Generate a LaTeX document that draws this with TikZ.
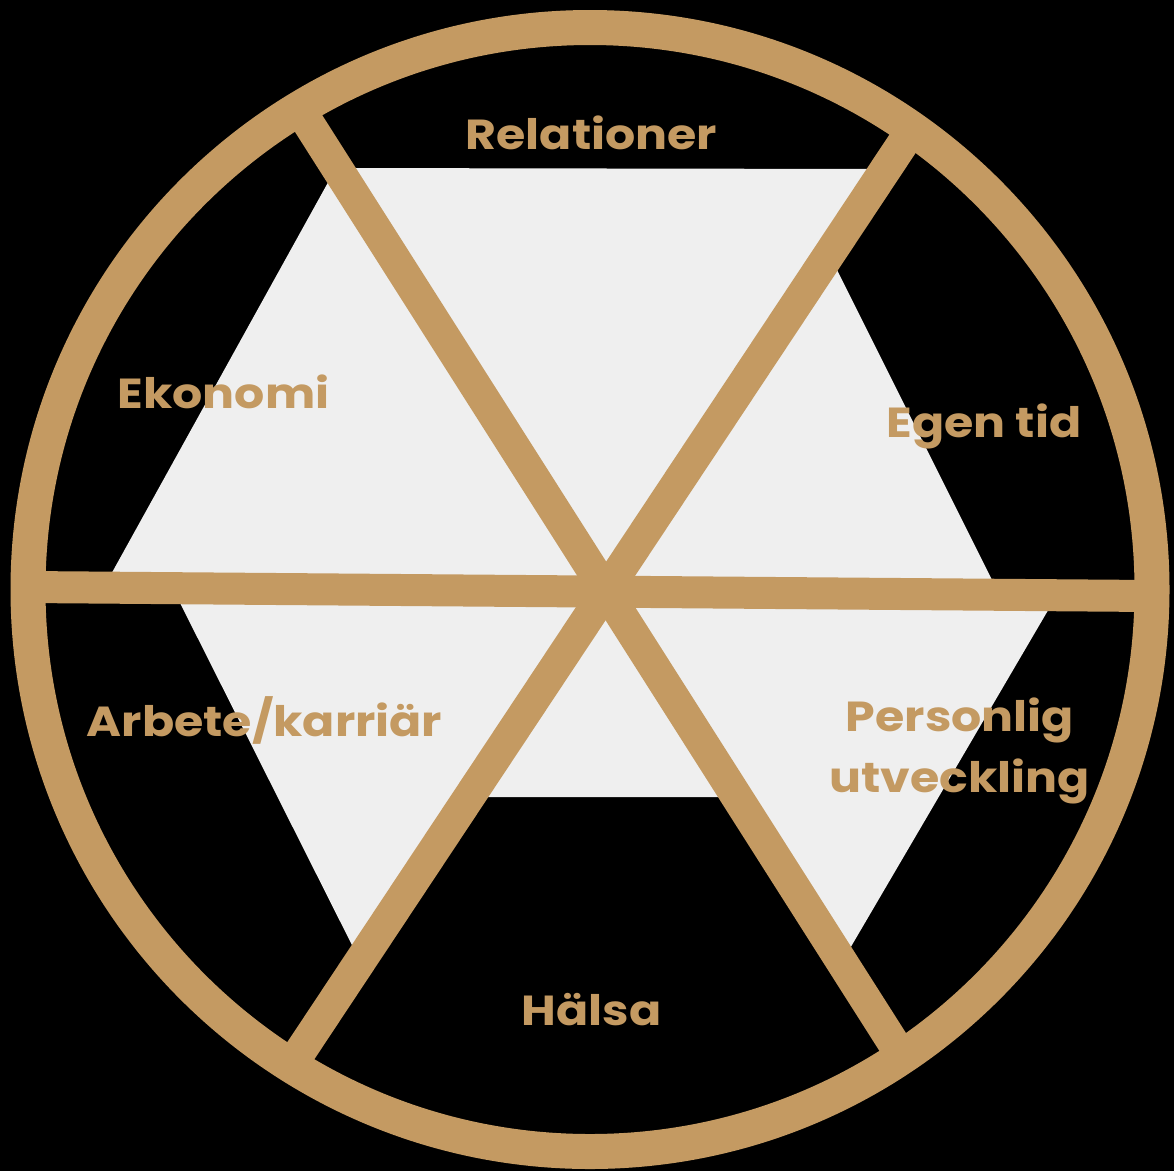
\documentclass[tikz,border=0pt]{standalone}
\usepackage{fontspec}
\setmainfont{Poppins}[FakeStretch=1.13]
\definecolor{gold}{RGB}{196,154,98}
\definecolor{pale}{RGB}{239,239,239}
\begin{document}
\begin{tikzpicture}[x=1pt,y=-1pt,
  spoke/.style={draw=gold,line width=32pt},
  rim/.style={draw=gold,line width=35pt},
  lbl/.style={text=gold,font=\fontsize{42}{50}\selectfont\bfseries,anchor=base,inner sep=0pt}]
\fill[black] (0,0) rectangle (1174,1171);
\useasboundingbox (0,0) rectangle (1174,1171);
% light sectors
\fill[pale] (336,168) -- (886,169) -- (829,254) -- (999,594) -- (1057,595)
  -- (842,962) -- (737,797) -- (469,797) -- (363,967) -- (173,589)
  -- (104,587) -- cycle;
% spokes
\coordinate (hl) at (28,587);
\coordinate (hr) at (1152,596);
\coordinate (d1a) at (300,110);
\coordinate (d1b) at (901,1055);
\coordinate (d2a) at (911,131);
\coordinate (d2b) at (292,1064);
\draw[spoke] (hl) -- (hr);
\draw[spoke] (d1a) -- (d1b);
\draw[spoke] (d2a) -- (d2b);
% rim
\node[circle,minimum size=1124pt,inner sep=0pt,rim] (ring) at (590,589.5) {};
% labels
\node[lbl] (rel) at (591.5,149) {Relationer};
\node[lbl] (eko) at (223.5,408) {Ekonomi};
\node[lbl] (egen) at (984,437) {Egen tid};
\node[lbl] (arb) at (264.5,736) {Arbete/karriär};
\node[lbl] (per1) at (960,731) {Personlig};
\node[lbl] (per2) at (959.5,792) {utveckling};
\node[lbl] (hal) at (591.5,1025) {Hälsa};
\end{tikzpicture}
\end{document}
